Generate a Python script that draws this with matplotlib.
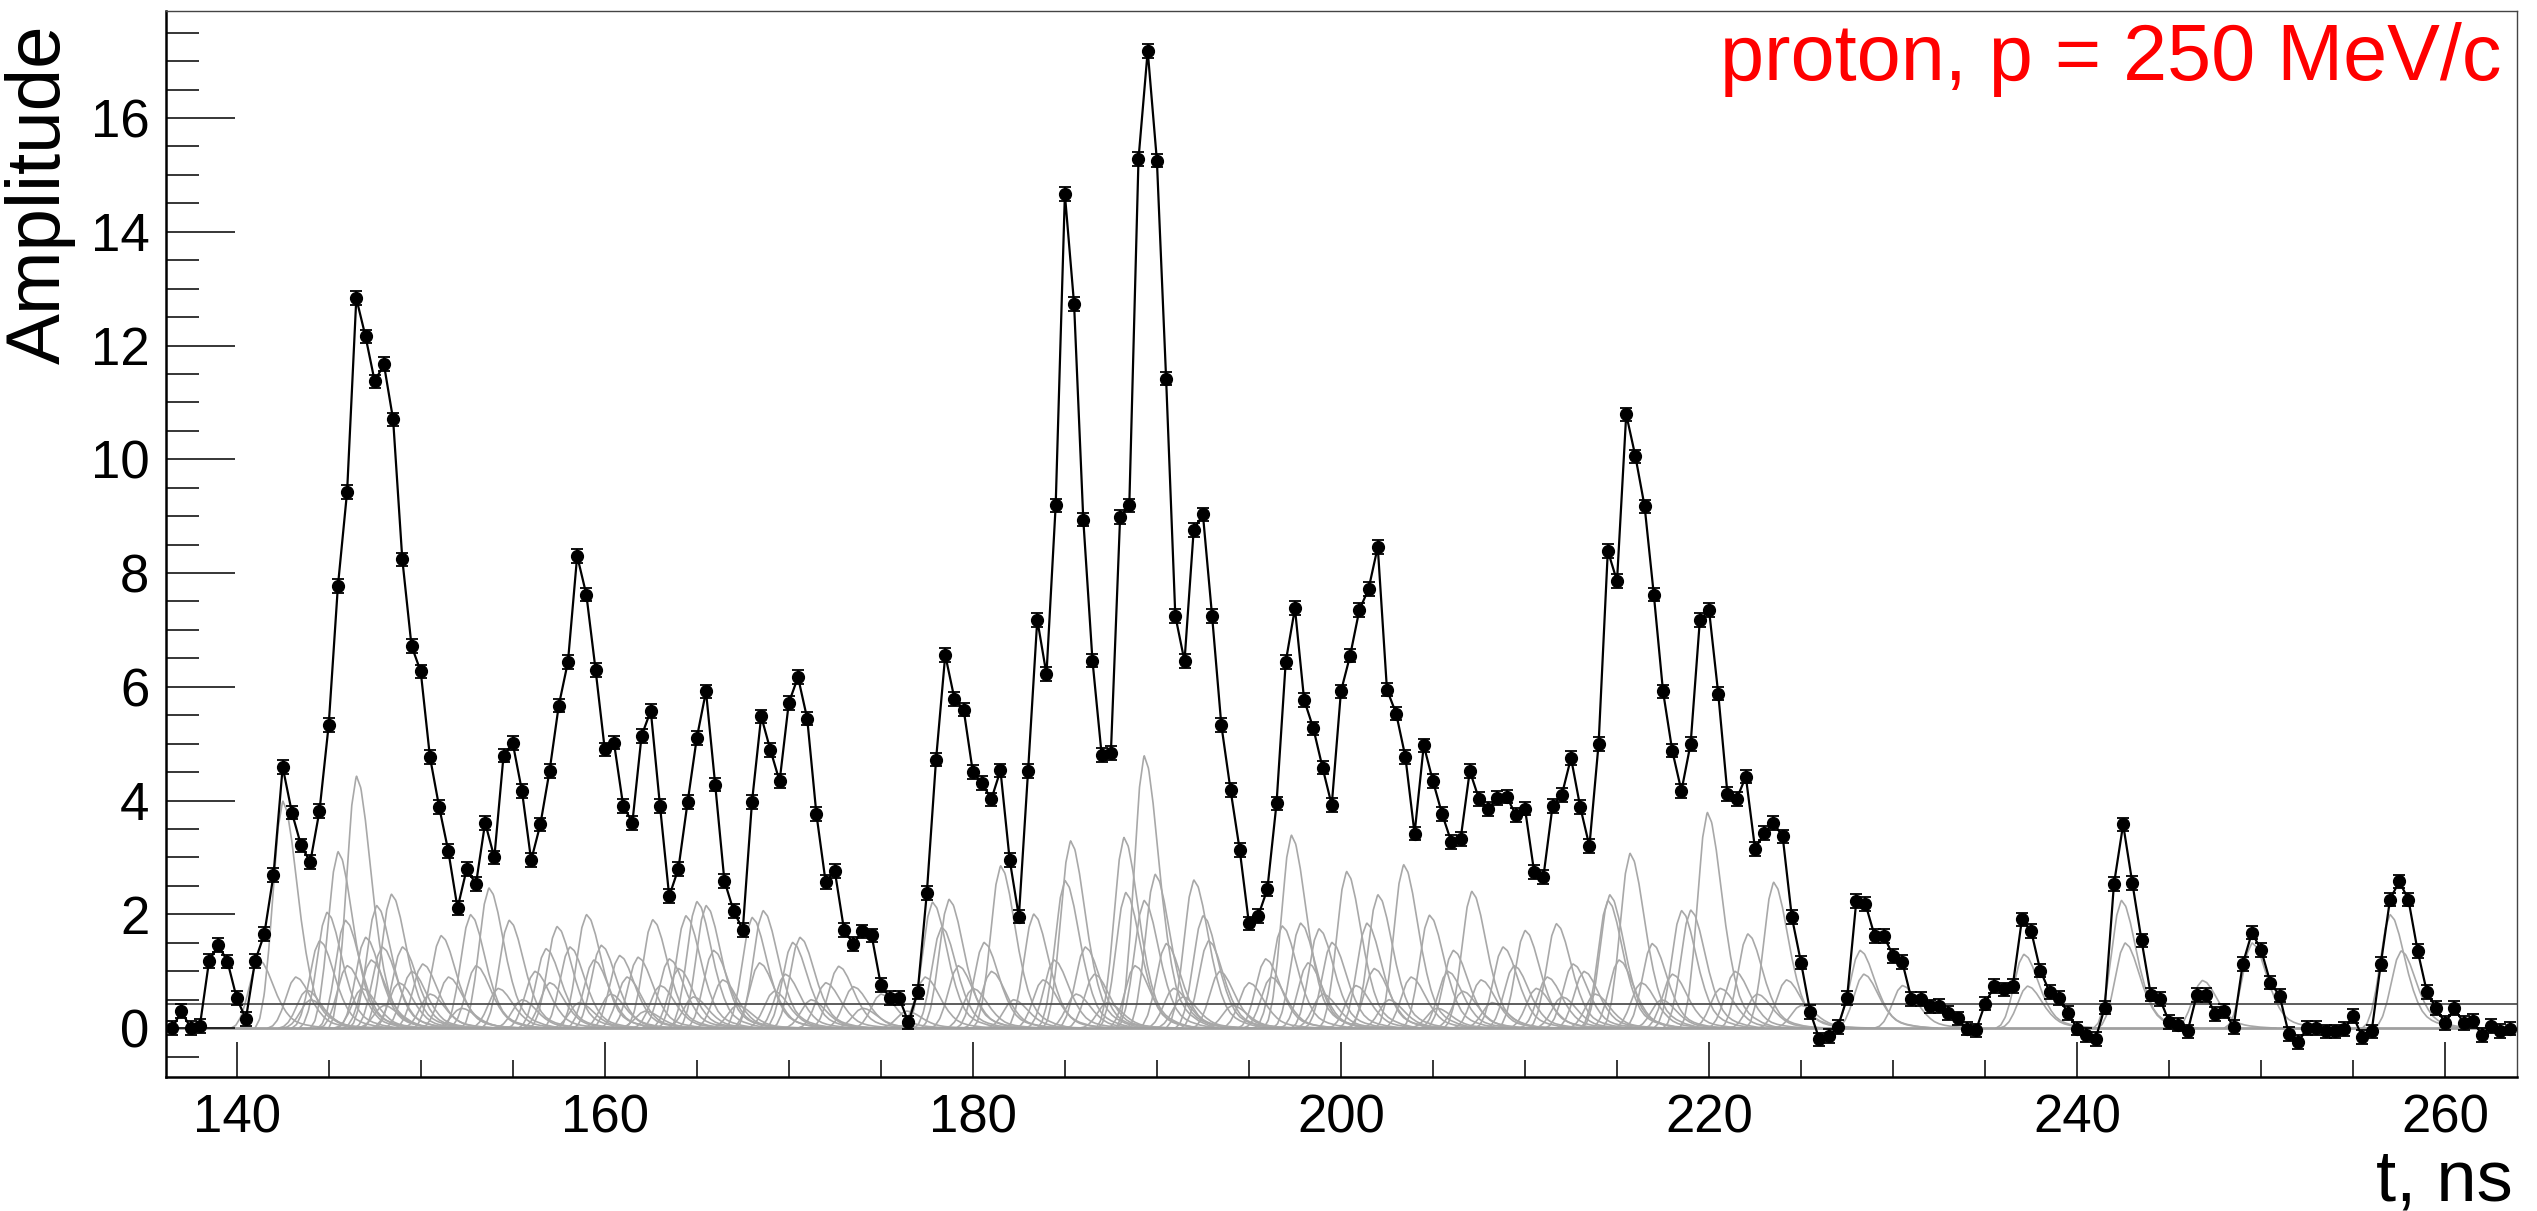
import numpy as np
import matplotlib
matplotlib.use("Agg")
import matplotlib.pyplot as plt

plt.rcParams['font.family'] = ['Liberation Sans', 'DejaVu Sans']

# sampled waveform, one point every 0.5 ns starting at 136.5 ns
t_start = 136.5
t_step = 0.5
amplitude = [
    0.00, 0.30, 0.00, 0.04, 1.18, 1.46, 1.17, 0.53, 0.16, 1.18,
    1.65, 2.69, 4.59, 3.79, 3.21, 2.92, 3.82, 5.33, 7.77, 9.43,
    12.83, 12.16, 11.37, 11.67, 10.70, 8.24, 6.72, 6.27, 4.77, 3.89,
    3.11, 2.11, 2.80, 2.53, 3.61, 3.00, 4.79, 5.01, 4.17, 2.95,
    3.58, 4.52, 5.67, 6.44, 8.30, 7.62, 6.30, 4.90, 5.02, 3.91,
    3.61, 5.14, 5.58, 3.91, 2.32, 2.80, 3.97, 5.10, 5.92, 4.28,
    2.59, 2.06, 1.73, 3.98, 5.48, 4.89, 4.34, 5.72, 6.17, 5.44,
    3.76, 2.57, 2.76, 1.73, 1.48, 1.70, 1.63, 0.76, 0.53, 0.53,
    0.10, 0.63, 2.38, 4.72, 6.56, 5.79, 5.60, 4.50, 4.31, 4.02,
    4.53, 2.96, 1.96, 4.52, 7.18, 6.22, 9.19, 14.66, 12.73, 8.94,
    6.46, 4.80, 4.84, 8.98, 9.19, 15.28, 17.18, 15.25, 11.42, 7.25,
    6.45, 8.76, 9.03, 7.24, 5.33, 4.19, 3.13, 1.84, 1.97, 2.44,
    3.95, 6.44, 7.38, 5.77, 5.27, 4.58, 3.92, 5.92, 6.55, 7.35,
    7.72, 8.46, 5.95, 5.53, 4.77, 3.42, 4.97, 4.34, 3.76, 3.27,
    3.32, 4.52, 4.03, 3.85, 4.05, 4.07, 3.75, 3.86, 2.74, 2.66,
    3.91, 4.10, 4.75, 3.89, 3.20, 5.00, 8.39, 7.86, 10.79, 10.05,
    9.17, 7.62, 5.92, 4.88, 4.17, 5.00, 7.17, 7.35, 5.88, 4.12,
    4.03, 4.42, 3.15, 3.43, 3.61, 3.37, 1.95, 1.15, 0.28, -0.20,
    -0.14, 0.02, 0.53, 2.23, 2.18, 1.62, 1.62, 1.27, 1.16, 0.51,
    0.51, 0.38, 0.39, 0.27, 0.17, -0.01, -0.04, 0.43, 0.74, 0.68,
    0.74, 1.91, 1.71, 1.01, 0.64, 0.53, 0.27, -0.01, -0.12, -0.19,
    0.36, 2.53, 3.58, 2.55, 1.54, 0.59, 0.51, 0.11, 0.06, -0.06,
    0.58, 0.58, 0.25, 0.30, 0.02, 1.13, 1.68, 1.37, 0.80, 0.57,
    -0.10, -0.25, 0.00, 0.00, -0.06, -0.06, -0.02, 0.21, -0.16, -0.06,
    1.13, 2.26, 2.58, 2.26, 1.36, 0.64, 0.35, 0.09, 0.35, 0.09,
    0.12, -0.12, 0.04, -0.05, -0.01,
]
amp_err = 0.12
threshold = 0.43

# single photo-electron pulses (peak time, peak amplitude)
pulse_peak = [
    141.2, 142.5, 143.8, 144.5, 144.9, 145.5, 145.9, 146.5, 147.0, 147.6,
    147.9, 148.4, 149.0, 150.1, 151.1, 152.7, 153.7, 154.8, 156.8, 157.4,
    158.1, 159.0, 159.8, 160.8, 161.8, 162.6, 163.5, 164.4, 165.0, 165.5,
    165.9, 168.0, 168.6, 170.2, 170.6, 172.7, 173.5, 177.8, 178.3, 178.7,
    180.6, 181.5, 183.3, 185.0, 185.3, 186.1, 188.2, 188.3, 189.3, 189.3,
    189.9, 190.5, 192.0, 192.5, 192.8, 195.9, 196.8, 197.3, 197.8, 198.8,
    199.5, 200.3, 201.4, 202.0, 203.4, 204.8, 206.1, 207.1, 208.8, 210.0,
    211.7, 212.6, 214.5, 214.6, 215.7, 216.9, 218.5, 219.0, 219.9, 222.1,
    223.5, 228.2, 228.4, 230.5, 237.1, 237.3, 242.4, 242.6, 246.8, 249.5,
    257.0, 257.6,
]
pulse_amp = [
    1.2, 4.0, 0.67, 1.54, 2.04, 3.11, 1.9, 4.44, 1.6, 2.16,
    1.43, 2.36, 1.43, 1.13, 1.63, 2.0, 2.47, 1.9, 1.4, 1.79,
    1.43, 2.0, 1.46, 1.28, 1.25, 1.91, 1.22, 1.98, 2.23, 2.16,
    1.37, 1.95, 2.07, 1.51, 1.6, 1.09, 0.73, 2.22, 1.78, 2.27,
    1.51, 2.86, 2.01, 2.6, 3.3, 1.43, 3.36, 2.39, 4.8, 2.25,
    2.71, 1.49, 2.61, 1.98, 1.54, 1.22, 1.8, 3.4, 1.85, 1.75,
    1.51, 2.76, 1.85, 2.35, 2.88, 1.99, 1.37, 2.41, 1.43, 1.72,
    1.84, 1.13, 2.25, 2.35, 3.08, 1.49, 2.07, 2.08, 3.8, 1.66,
    2.57, 1.37, 0.95, 0.75, 1.3, 0.74, 2.25, 1.5, 0.84, 1.5,
    2.0, 1.36,
]
small_peak = [
    143.2, 144.0, 146.0, 146.8, 147.3, 148.0, 148.8, 149.5, 150.5, 151.5,
    152.2, 153.0, 154.2, 155.5, 156.2, 157.0, 158.6, 159.4, 160.3, 161.2,
    162.2, 163.0, 164.0, 164.8, 166.4, 167.2, 168.4, 169.2, 169.8, 171.2,
    172.0, 174.0, 175.0, 176.4, 177.4, 179.2, 180.0, 181.0, 182.2, 183.8,
    184.4, 185.6, 186.6, 187.3, 188.8, 190.9, 191.4, 193.4, 194.1, 195.0,
    196.2, 198.2, 199.0, 200.8, 201.8, 202.6, 203.8, 205.2, 205.8, 206.6,
    207.6, 208.2, 209.4, 210.6, 211.2, 212.0, 213.2, 213.8, 215.1, 216.3,
    217.4, 218.0, 220.6, 221.4, 222.6, 224.2, 225.0,
]
small_amp = [
    0.9, 0.5, 1.1, 0.7, 1.2, 0.4, 0.8, 1.0, 0.6, 0.9,
    0.35, 1.1, 0.7, 0.5, 1.0, 0.8, 0.45, 1.2, 0.6, 0.9,
    0.3, 0.75, 1.05, 0.55, 0.85, 0.4, 1.15, 0.65, 0.95, 0.5,
    0.8, 0.35, 0.6, 0.3, 0.9, 1.1, 0.7, 1.0, 0.5, 0.85,
    1.2, 0.6, 0.95, 0.45, 1.1, 0.7, 0.55, 1.0, 0.4, 0.8,
    0.9, 1.15, 0.6, 0.75, 1.05, 0.5, 0.9, 0.35, 1.0, 0.65,
    0.85, 0.45, 1.1, 0.7, 0.9, 0.55, 1.0, 0.6, 1.2, 0.8,
    0.5, 0.95, 0.7, 1.0, 0.6, 0.85, 0.4,
]
shape_dt = [-1.5, -1.25, -1.0, -0.75, -0.5, -0.25, 0.0, 0.25, 0.5, 0.75,
            1.0, 1.25, 1.5, 1.75, 2.0, 2.25, 2.5, 3.0, 3.5, 4.0]
shape_val = [0.0, 0.04, 0.15, 0.35, 0.62, 0.88, 1.0, 0.95, 0.82, 0.65,
             0.48, 0.34, 0.23, 0.15, 0.10, 0.07, 0.05, 0.025, 0.01, 0.0]

t = t_start + t_step * np.arange(len(amplitude))
amplitude = np.array(amplitude)

W, H = 2537, 1211
fig = plt.figure(figsize=(W / 100, H / 100), dpi=100)
ax = fig.add_axes([166 / W, 1 - 1077 / H, (2517 - 166) / W, (1077 - 10.5) / H])

# gray pulses
dt_fine = np.linspace(shape_dt[0], shape_dt[-1], 150)
sv_fine = np.interp(dt_fine, shape_dt, shape_val)
for tp, a in zip(pulse_peak + small_peak, pulse_amp + small_amp):
    ax.plot(tp + dt_fine, a * sv_fine, color='#a8a8a8', lw=1.2, zorder=1)

ax.axhline(0, color='#a0a0a0', lw=2.0, zorder=1)
ax.axhline(threshold, color='#505050', lw=1.3, zorder=2)

ax.errorbar(t, amplitude, yerr=amp_err, fmt='o', color='black', ms=8.5,
            elinewidth=1.3, capsize=4, capthick=1.3, zorder=4)
ax.plot(t, amplitude, color='black', lw=1.6, zorder=3)

ax.set_xlim(136.16, 263.9)
ax.set_ylim(-0.86, 17.89)
ax.set_xticks([140, 160, 180, 200, 220, 240, 260])
ax.set_xticks(np.arange(140, 264, 5), minor=True)
ax.set_yticks(np.arange(0, 17, 2))
ax.set_yticks(np.arange(-0.5, 17.9, 0.5), minor=True)
ax.tick_params(axis='y', which='major', direction='in', length=50, width=1.1,
               labelsize=38, pad=12)
ax.tick_params(axis='y', which='minor', direction='in', length=24, width=1.1)
ax.tick_params(axis='x', which='major', direction='in', length=25, width=1.1,
               labelsize=38, pad=12)
ax.tick_params(axis='x', which='minor', direction='in', length=12, width=1.1)
for s in ['left', 'bottom']:
    ax.spines[s].set_linewidth(1.8)
for s in ['top', 'right']:
    ax.spines[s].set_linewidth(1.0)
    ax.spines[s].set_color('#444444')

fig.text(2501 / W, 1 - 80 / H, 'proton, p = 250 MeV/c', color='red',
         fontsize=57, ha='right', va='baseline')
fig.text(40 / W, 1 - 24 / H, 'Amplitude', rotation=90, fontsize=55,
         ha='center', va='top')
fig.text(2513 / W, 1 - 1200 / H, 't, ns', fontsize=52, ha='right',
         va='baseline')

fig.savefig('out.png', dpi=100)
